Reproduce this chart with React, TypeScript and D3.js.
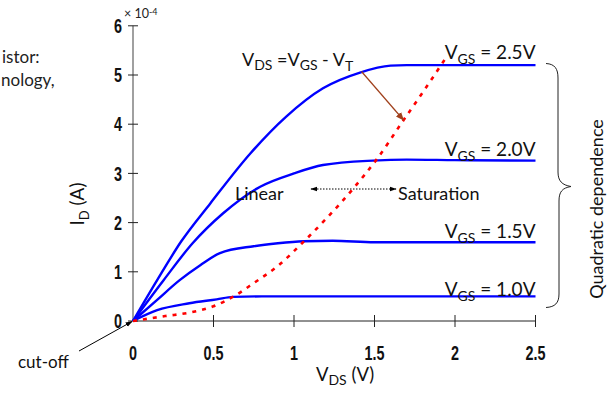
import React from "react";
import * as d3 from "d3";

// ---- data ----
const xTicks = [0, 0.5, 1, 1.5, 2, 2.5];
const xTickLabels = ["0", "0.5", "1", "1.5", "2", "2.5"];
const yTicks = [0, 1, 2, 3, 4, 5, 6];
const yTickLabels = ["0", "1", "2", "3", "4", "5", "6"];

const vds25 = [0, 0.15, 0.3, 0.48, 0.73, 0.95, 1.18, 1.41, 1.6, 1.7, 2.5];
const id25 = [0, 0.83, 1.62, 2.39, 3.41, 4.15, 4.73, 5.05, 5.19, 5.2, 5.2];
const vds20 = [0, 0.19, 0.37, 0.56, 0.79, 1.0, 1.18, 1.49, 1.7, 2.0, 2.5];
const id20 = [0, 0.83, 1.58, 2.19, 2.73, 3.0, 3.17, 3.26, 3.28, 3.27, 3.26];
const vds15 = [0, 0.15, 0.29, 0.42, 0.54, 0.75, 0.9, 1.06, 1.24, 1.5, 2.5];
const id15 = [0, 0.43, 0.83, 1.14, 1.38, 1.52, 1.58, 1.62, 1.63, 1.6, 1.6];
const vds10 = [0, 0.15, 0.35, 0.52, 0.62, 0.8, 2.5];
const id10 = [0, 0.22, 0.36, 0.44, 0.49, 0.5, 0.5];

const vdsSat = [0, 0.1, 0.2, 0.35, 0.5, 0.62, 0.75, 0.9, 1.05, 1.2, 1.37, 1.51, 1.68, 1.8, 1.95];
const idSat = [0, 0.05, 0.1, 0.17, 0.3, 0.49, 0.77, 1.12, 1.58, 2.08, 2.7, 3.27, 4.08, 4.65, 5.38];

const vgsLabels = ["2.5V", "2.0V", "1.5V", "1.0V"];
const satLevels = [5.2, 3.27, 1.6, 0.5];

// ---- layout ----
const W = 607;
const H = 393;
const labelOffsets = [-6.5, -4.5, -4.5, 0];
const BLUE = "#0000ff";
const TXT = "Lato, 'Open Sans', sans-serif";
const TICKFONT = "'Liberation Sans', Arial, sans-serif";

export default function App() {
  const x = d3.scaleLinear().domain([0, 2.5]).range([133, 535.5]);
  const y = d3.scaleLinear().domain([0, 6]).range([321, 25.8]);

  const line = d3
    .line<[number, number]>()
    .x((d) => x(d[0]))
    .y((d) => y(d[1]))
    .curve(d3.curveMonotoneX);

  const zip = (a: number[], b: number[]) => a.map((v, i) => [v, b[i]] as [number, number]);
  const curves = [zip(vds25, id25), zip(vds20, id20), zip(vds15, id15), zip(vds10, id10)];
  const sat = zip(vdsSat, idSat);

  const x0 = x(0);
  const y0 = y(0);

  return (
    <svg
      width={W}
      height={H}
      style={{ position: "absolute", left: 0, top: 0, background: "#fff" }}
    >
      <defs>
        <marker id="brownArrow" viewBox="0 0 10 10" refX="9" refY="5" markerWidth="7" markerHeight="7" orient="auto">
          <path d="M0,1 L10,5 L0,9 Z" fill="#a0401c" />
        </marker>
        <marker id="blackArrow" viewBox="0 0 10 10" refX="9" refY="5" markerWidth="7" markerHeight="7" orient="auto-start-reverse">
          <path d="M0,1.5 L10,5 L0,8.5 Z" fill="#000" />
        </marker>
      </defs>

      {/* cropped slide text */}
      <text x={2} y={63} fontFamily={TXT} fontSize={17} fill="#222">istor:</text>
      <text x={1} y={86} fontFamily={TXT} fontSize={17} fill="#222">nology,</text>

      {/* y axis */}
      <line x1={x0} x2={x0} y1={y(6)} y2={y0} stroke="#808080" strokeWidth={1.5} />
      {yTicks.map((t, i) => (
        <g key={"yt" + i}>
          <line x1={x0 - 5} x2={x0 + 5} y1={y(t)} y2={y(t)} stroke="#222" strokeWidth={1} />
          <text
            transform={`translate(${x0 - 11},${y(t)}) scale(0.72,1)`}
            dy="0.36em"
            textAnchor="end"
            fontFamily={TICKFONT}
            fontWeight="bold"
            fontSize={20}
            fill="#111"
          >
            {yTickLabels[i]}
          </text>
        </g>
      ))}
      {/* x axis */}
      <line x1={x0} x2={x(2.5)} y1={y0} y2={y0} stroke="#222" strokeWidth={1} />
      {xTicks.map((t, i) => (
        <g key={"xt" + i}>
          {i > 0 && <line x1={x(t)} x2={x(t)} y1={y0 - 6} y2={y0 + 6} stroke="#222" strokeWidth={1} />}
          <text
            transform={`translate(${x(t)},360) scale(0.72,1)`}
            textAnchor="middle"
            fontFamily={TICKFONT}
            fontWeight="bold"
            fontSize={20}
            fill="#111"
          >
            {xTickLabels[i]}
          </text>
        </g>
      ))}

      {/* exponent */}
      <text x={124} y={18} fontFamily={TXT} fontSize={12.5} fill="#222">
        × 10<tspan fontSize={9} dy={-3}>-4</tspan>
      </text>

      {/* axis titles */}
      <text transform={`translate(84,204) rotate(-90)`} textAnchor="middle" fontFamily={TXT} fontSize={19} fill="#111">
        I<tspan fontSize={13} dy={5}>D</tspan><tspan dy={-5}> (A)</tspan>
      </text>
      <text x={345} y={381} textAnchor="middle" fontFamily={TXT} fontSize={18.5} fill="#111">
        V<tspan fontSize={14} dy={4}>DS</tspan><tspan dy={-4}> (V)</tspan>
      </text>

      {/* curves */}
      {curves.map((c, i) => (
        <path key={"c" + i} d={line(c) || ""} fill="none" stroke={BLUE} strokeWidth={2.4} />
      ))}
      <path d={line(sat) || ""} fill="none" stroke="#ff0000" strokeWidth={2.6} strokeDasharray="4 6" />

      {/* VGS labels */}
      {vgsLabels.map((l, i) => (
        <text key={"l" + i} x={x(2.5)} y={y(satLevels[i]) + labelOffsets[i]} textAnchor="end" fontFamily={TXT} fontSize={19} fill="#111">
          V<tspan fontSize={14} dy={5}>GS</tspan><tspan dy={-5}>{" = " + l}</tspan>
        </text>
      ))}

      {/* VDS = VGS - VT annotation */}
      <text x={242} y={66} fontFamily={TXT} fontSize={18} fill="#111">
        V<tspan fontSize={14} dy={4}>DS</tspan><tspan dy={-4}> =V</tspan><tspan fontSize={14} dy={4}>GS</tspan><tspan dy={-4}> - V</tspan><tspan fontSize={14} dy={5}>T</tspan>
      </text>
      <line x1={361.5} y1={71.5} x2={403.5} y2={120} stroke="#a0401c" strokeWidth={1.2} markerEnd="url(#brownArrow)" />

      {/* Linear / Saturation */}
      <text x={235} y={200} fontFamily={TXT} fontSize={18} fill="#111">Linear</text>
      <text x={398} y={200} fontFamily={TXT} fontSize={18} fill="#111">Saturation</text>
      <line x1={311} y1={189} x2={396} y2={189} stroke="#000" strokeWidth={1} strokeDasharray="1.5 1.5" markerStart="url(#blackArrow)" markerEnd="url(#blackArrow)" />

      {/* cut-off */}
      <text x={18} y={368} fontFamily={TXT} fontSize={17} fill="#111">cut-off</text>
      <line x1={79} y1={351} x2={x0 - 1} y2={y0 + 0.5} stroke="#000" strokeWidth={1} markerEnd="url(#blackArrow)" />

      {/* brace */}
      <path
        d="M546,63.5 C555,64 558,69 558,78 L558,172 C558,181 562,185 571,186.5 C562,188 559,192 559,201 L559,294 C559,303 555,307 546,307.5"
        fill="none"
        stroke="#222"
        strokeWidth={1}
      />
      <text transform={`translate(603,209) rotate(-90)`} textAnchor="middle" fontFamily={TXT} fontSize={18} fill="#111">
        Quadratic dependence
      </text>
    </svg>
  );
}
